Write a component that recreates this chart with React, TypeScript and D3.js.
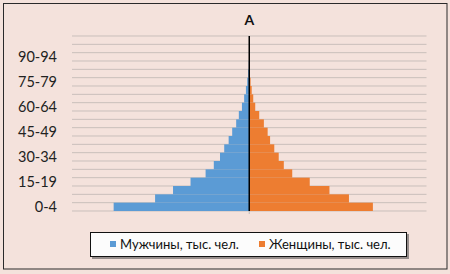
import React from "react";
import * as d3 from "d3";

const ageGroups = [
  "0-4", "5-9", "10-14", "15-19", "20-24", "25-29", "30-34", "35-39", "40-44",
  "45-49", "50-54", "55-59", "60-64", "65-69", "70-74", "75-79", "80-84",
  "85-89", "90-94", "95-99", "100+",
];
const males = [612, 425, 344, 265, 197, 160, 132, 113, 93, 77, 59, 47, 33, 23, 15, 9, 5, 2, 0, 0, 0];
const females = [558, 450, 362, 273, 194, 156, 133, 113, 94, 83, 66, 45, 27, 18, 11, 6, 3, 1, 0, 0, 0];
const shownLabels = ["0-4", "15-19", "30-34", "45-49", "60-64", "75-79", "90-94"];
const title = "А";
const seriesNames = ["Мужчины, тыс. чел.", "Женщины, тыс. чел."];

const W = 450;
const H = 274;
const BG = "#f4e2dc";
const BLUE = "#5b9bd5";
const ORANGE = "#ed7d31";
const GRID = "#c9bfbb";
const FONT = "Lato, 'Open Sans', sans-serif";

export default function App() {
  const plot = { left: 72, right: 426.5, top: 36, bottom: 211 };
  const x = d3.scaleLinear().domain([-800, 800]).range([plot.left, plot.right]);
  const y = d3
    .scaleBand<string>()
    .domain(ageGroups)
    .range([plot.bottom, plot.top])
    .paddingInner(0)
    .paddingOuter(0);
  const bw = y.bandwidth();
  const boundaries = d3.range(ageGroups.length + 1).map((i) => plot.bottom - i * bw);
  const x0 = x(0);

  return (
    <svg width={W} height={H} style={{ position: "absolute", left: 0, top: 0 }}>
      <rect x={0} y={0} width={W} height={H} fill={BG} />
      <rect x={3.5} y={3.5} width={443.5} height={265.5} fill={BG} stroke="#2a2a2a" strokeWidth={1} />
      <text x={x0} y={25} textAnchor="middle" fontFamily={FONT} fontWeight="bold" fontSize={14} fill="#111">
        {title}
      </text>
      {boundaries.map((b, i) => (
        <line key={i} x1={plot.left} x2={plot.right} y1={b} y2={b} stroke={GRID} strokeWidth={1} />
      ))}
      {ageGroups.map((g, i) => (
        <rect key={"m" + g} x={x(-males[i])} y={y(g)} width={x0 - x(-males[i])} height={bw} fill={BLUE} />
      ))}
      {ageGroups.map((g, i) => (
        <rect key={"f" + g} x={x0} y={y(g)} width={x(females[i]) - x0} height={bw} fill={ORANGE} />
      ))}
      <line x1={x0} x2={x0} y1={plot.top} y2={plot.bottom} stroke="#000" strokeWidth={1.5} />
      <line x1={x0} x2={x0} y1={plot.bottom} y2={plot.bottom + 3} stroke="#bbb" strokeWidth={1} />
      {shownLabels.map((g) => (
        <text
          key={"l" + g}
          x={57}
          y={(y(g) as number) + bw / 2}
          dy="0.35em"
          textAnchor="end"
          fontFamily={FONT}
          fontSize={14.5}
          fill="#222"
        >
          {g}
        </text>
      ))}
      <g>
        <rect x={92} y={234} width={317} height={25} fill="#555" opacity={0.6} />
        <rect x={90.5} y={232.5} width={316} height={24} fill="#fcfcfc" stroke="#111" strokeWidth={1} />
        <rect x={110} y={241} width={6} height={6} fill={BLUE} />
        <text x={120} y={248.5} fontFamily={FONT} fontSize={13} fill="#111">
          {seriesNames[0]}
        </text>
        <rect x={259} y={241} width={6} height={6} fill={ORANGE} />
        <text x={269} y={248.5} fontFamily={FONT} fontSize={13} fill="#111">
          {seriesNames[1]}
        </text>
      </g>
    </svg>
  );
}
